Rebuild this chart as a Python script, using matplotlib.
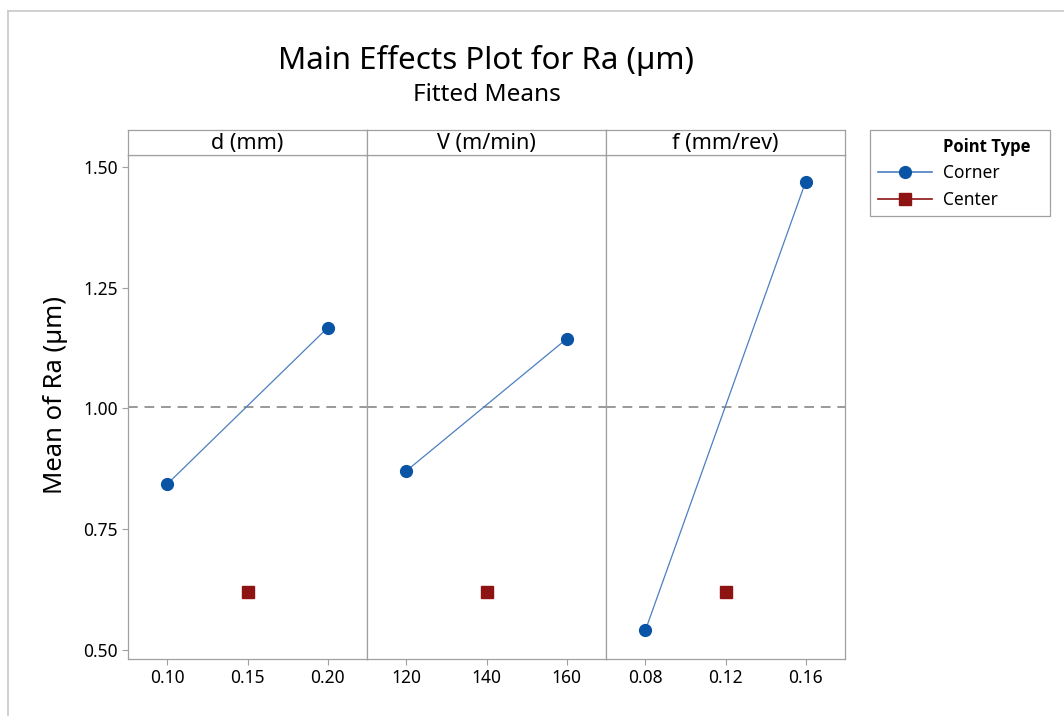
import matplotlib
matplotlib.use("Agg")
import matplotlib.pyplot as plt
from matplotlib.lines import Line2D
from matplotlib.patches import Rectangle

plt.rcParams['font.family'] = ['Noto Sans', 'DejaVu Sans']

# ---- data ----
factors = ['d (mm)', 'V (m/min)', 'f (mm/rev)']
low_levels = [0.10, 120, 0.08]
high_levels = [0.20, 160, 0.16]
center_levels = [0.15, 140, 0.12]
corner_low_means = [0.844, 0.871, 0.541]
corner_high_means = [1.167, 1.144, 1.469]
center_means = [0.620, 0.620, 0.620]
grand_mean = 1.003
xtick_labels = [['0.10', '0.15', '0.20'], ['120', '140', '160'], ['0.08', '0.12', '0.16']]
yticks = [0.50, 0.75, 1.00, 1.25, 1.50]
ytick_labels = ['0.50', '0.75', '1.00', '1.25', '1.50']

W, H = 1064, 716
fig = plt.figure(figsize=(W / 100, H / 100), dpi=100)

BLUE_M = '#0A54A5'
BLUE_L = '#4C7FC0'
RED = '#8E1414'
GRAY = '#A0A0A0'

left_px, right_px = 128, 845
top_px, bot_px = 155, 659
strip_top = 130
pw = (right_px - left_px) / 3

for i in range(3):
    x0 = (left_px + i * pw) / W
    ax = fig.add_axes([x0, 1 - bot_px / H, pw / W, (bot_px - top_px) / H])
    lo, hi, c = low_levels[i], high_levels[i], center_levels[i]
    half = (hi - lo) / 2 / 0.67
    ax.set_xlim(c - half, c + half)
    ax.set_ylim(0.4814, 1.5248)
    ax.axhline(grand_mean, color='#999999', lw=1.4, ls=(0, (5, 3.5)), zorder=1)
    ax.plot([lo, hi], [corner_low_means[i], corner_high_means[i]], color=BLUE_L, lw=0.9,
            marker='o', markersize=8.5, markerfacecolor=BLUE_M, markeredgecolor=BLUE_M, zorder=3)
    ax.plot([c], [center_means[i]], ls='none', marker='s', markersize=8.5,
            markerfacecolor=RED, markeredgecolor=RED, zorder=3)
    ax.set_xticks([lo, c, hi])
    ax.set_xticklabels(xtick_labels[i], fontsize=12.5)
    ax.set_yticks(yticks)
    if i == 0:
        ax.set_yticklabels(ytick_labels, fontsize=12.5)
    else:
        ax.tick_params(axis='y', left=False, labelleft=False)
    ax.tick_params(axis='both', colors=GRAY, labelcolor='black', length=4, width=0.8)
    for s in ax.spines.values():
        s.set_color(GRAY)
        s.set_linewidth(0.9)

    sax = fig.add_axes([x0, 1 - top_px / H, pw / W, (top_px - strip_top) / H])
    sax.set_xticks([])
    sax.set_yticks([])
    for s in sax.spines.values():
        s.set_color(GRAY)
        s.set_linewidth(0.9)
    sax.text(0.5, 0.45, factors[i], ha='center', va='center', fontsize=15.5, transform=sax.transAxes)

fig.text(55 / W, 1 - 394.5 / H, 'Mean of Ra (µm)', rotation=90, ha='center', va='center',
         fontsize=18.5)
fig.text((left_px + right_px) / 2 / W, 1 - 61 / H, 'Main Effects Plot for Ra (µm)',
         ha='center', va='center', fontsize=22.5)
fig.text((left_px + right_px) / 2 / W, 1 - 95 / H, 'Fitted Means',
         ha='center', va='center', fontsize=17.5)

handles = [Line2D([], [], alpha=0),
           Line2D([], [], color=BLUE_L, lw=1.2, marker='o', markersize=8.5,
                  markerfacecolor=BLUE_M, markeredgecolor=BLUE_M),
           Line2D([], [], color=RED, lw=1.2, marker='s', markersize=8.5,
                  markerfacecolor=RED, markeredgecolor=RED)]
labels = ['Point Type', 'Corner', 'Center']
leg = fig.legend(handles, labels, loc='upper left', bbox_to_anchor=(870 / W, 1 - 130 / H),
                 bbox_transform=fig.transFigure, borderaxespad=0, fontsize=12.5,
                 frameon=False, handlelength=3.1,
                 handletextpad=0.65, labelspacing=0.5, borderpad=0.45)
t0 = leg.get_texts()[0]
t0.set_family(['Open Sans', 'DejaVu Sans'])
t0.set_fontweight('bold')
t0.set_fontsize(12)
fig.add_artist(Rectangle((870 / W, 1 - 216 / H), 180 / W, 86 / H, transform=fig.transFigure,
                         facecolor='none', edgecolor=GRAY, lw=0.9))

fig.add_artist(Line2D([8 / W, 1], [1 - 11 / H, 1 - 11 / H], transform=fig.transFigure,
                      color='#C8C8C8', lw=1.2))
fig.add_artist(Line2D([8 / W, 8 / W], [0, 1 - 11 / H], transform=fig.transFigure,
                      color='#C8C8C8', lw=1.2))

fig.savefig('out.png', dpi=100)
